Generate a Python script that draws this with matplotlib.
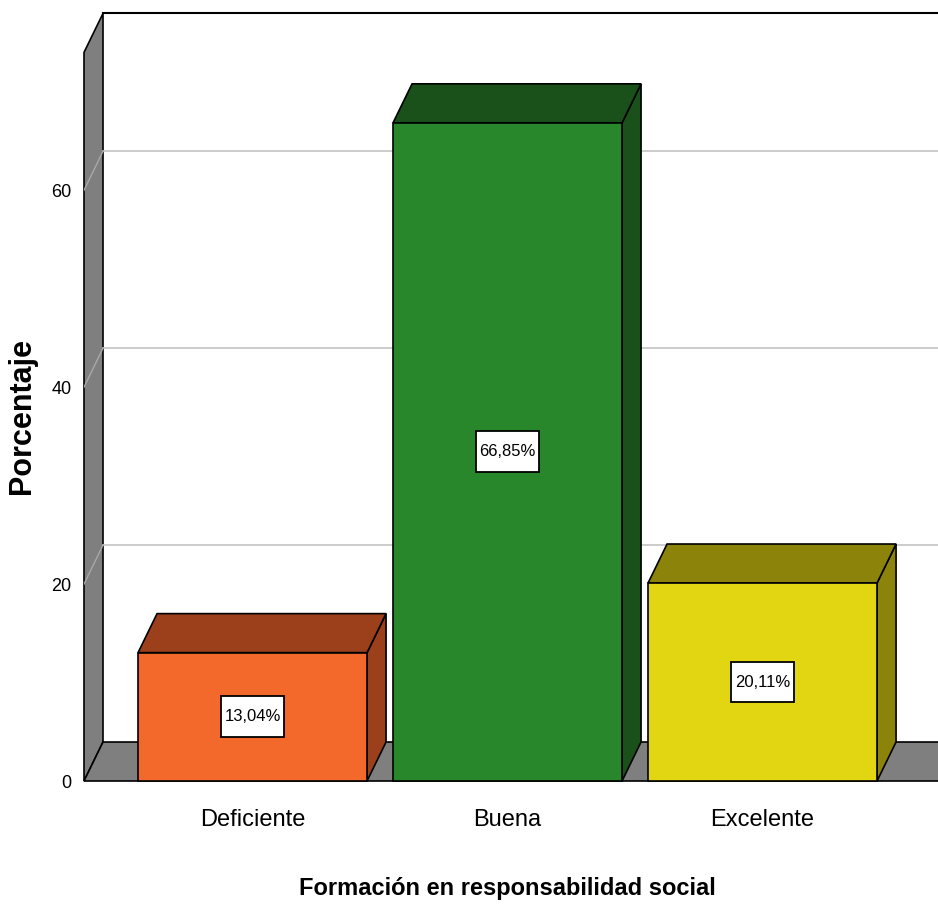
import matplotlib.pyplot as plt
from matplotlib.patches import Polygon, Rectangle

categories = ["Deficiente", "Buena", "Excelente"]
values = [13.04, 66.85, 20.11]
labels = ["13,04%", "66,85%", "20,11%"]
front_colors = ["#f2692b", "#28862b", "#e2d512"]
dark_colors = ["#9b401b", "#1a511b", "#8c830b"]
yticks = [0, 20, 40, 60]

font = ["Liberation Sans", "DejaVu Sans"]

fig = plt.figure(figsize=(9.38, 9.10), dpi=100)
ax = fig.add_axes([84 / 938, 129 / 910, 854 / 938, (781 - 15) / 910])
x0, x1 = -0.661, 2.688
ax.set_xlim(x0, x1)
ax.set_ylim(0, 77.8)

dx, dy = 0.0745, 3.96   # depth offset of the 3D box
H = 74.0
w = 0.898

def poly(pts, fc, z, lw=1.2, ec="black"):
    ax.add_patch(Polygon(pts, closed=True, facecolor=fc, edgecolor=ec,
                         linewidth=lw, zorder=z, clip_on=False))

# left wall
poly([(x0, 0), (x0 + dx, dy), (x0 + dx, H + dy), (x0, H)], "#7f7f7f", 1)
# floor
poly([(x0, 0), (x0 + dx, dy), (x1 + 0.2, dy), (x1 + 0.2 - dx, 0)], "#7f7f7f", 1)
# back wall top border
ax.plot([x0 + dx, x1 + 0.2], [H + dy, H + dy], color="black", lw=1.5, zorder=2, clip_on=False)

# gridlines
for t in yticks[1:]:
    ax.plot([x0 + dx, x1 + 0.2], [t + dy, t + dy], color="#c4c4c4", lw=1.2, zorder=1.5, clip_on=False)
    ax.plot([x0, x0 + dx], [t, t + dy], color="#a8a8a8", lw=1, zorder=1.5)

# bars
bw, bh = 0.245, 4.15   # label box size
for i, v in enumerate(values):
    l, r = i - w / 2, i + w / 2
    poly([(r, 0), (r + dx, dy), (r + dx, v + dy), (r, v)], dark_colors[i], 3)
    poly([(l, v), (l + dx, v + dy), (r + dx, v + dy), (r, v)], dark_colors[i], 3)
    poly([(l, 0), (r, 0), (r, v), (l, v)], front_colors[i], 4)
    ax.add_patch(Rectangle((i - bw / 2, v / 2 - bh / 2), bw, bh, facecolor="white",
                           edgecolor="black", lw=1.3, zorder=5))
    ax.text(i, v / 2, labels[i], ha="center", va="center", fontsize=12,
            family=font, zorder=6)

ax.set_xticks(range(len(categories)))
ax.set_xticklabels(categories, family=font, fontsize=17)
ax.set_yticks(yticks)
ax.set_yticklabels([str(t) for t in yticks], family=font, fontsize=13)
ax.tick_params(length=0)
ax.tick_params(axis="x", pad=20)
ax.tick_params(axis="y", pad=9)
for s in ax.spines.values():
    s.set_visible(False)
ax.patch.set_alpha(0)

fig.text(507 / 938, 1 - 888 / 910, "Formación en responsabilidad social", family=font,
         fontsize=17, fontweight="bold", ha="center", va="center")
fig.text(22 / 938, 1 - 416 / 910, "Porcentaje", family=font, rotation=90,
         fontsize=22, fontweight="bold", ha="center", va="center")

fig.savefig("out.png", dpi=100)
